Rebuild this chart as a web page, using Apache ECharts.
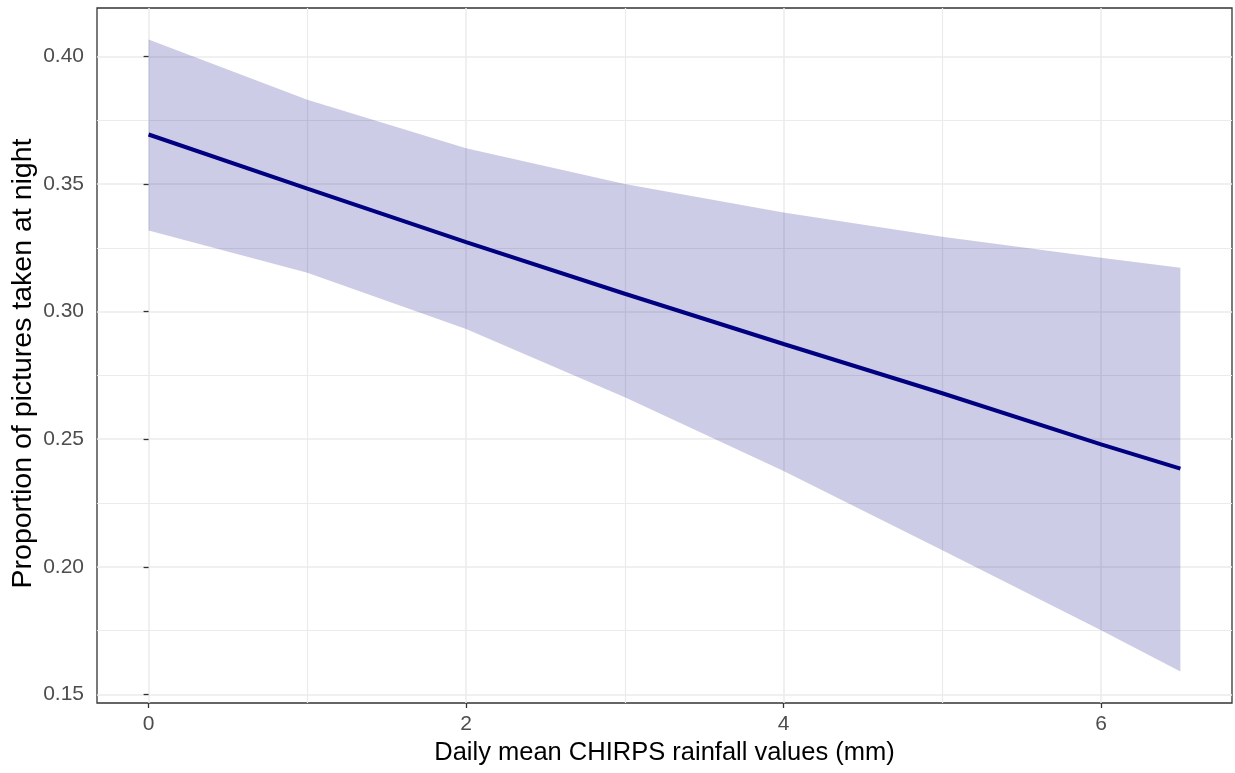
<!DOCTYPE html>
<html>
<head>
<meta charset="utf-8">
<script src="https://cdn.jsdelivr.net/npm/echarts@6/dist/echarts.min.js"></script>
<style>
  html, body { margin: 0; padding: 0; background: #ffffff; }
  #chart { width: 1235px; height: 773px; }
</style>
</head>
<body>
<div id="chart"></div>
<script>
// Rainfall (mm) at which the fitted curve and its confidence band are drawn
const rainfall = [0, 1, 2, 3, 4, 5, 6, 6.5];
// Fitted proportion of night-time pictures
const fitted = [0.3694, 0.3482, 0.3272, 0.3070, 0.2873, 0.2680, 0.2480, 0.2385];
// Upper and lower limits of the confidence band
const upperCI = [0.4066, 0.3830, 0.3640, 0.3500, 0.3388, 0.3293, 0.3211, 0.3172];
const lowerCI = [0.3318, 0.3152, 0.2932, 0.2664, 0.2375, 0.2065, 0.1751, 0.1590];
// Tick values
const xTicks = [0, 2, 4, 6];
const yTicks = [0.15, 0.20, 0.25, 0.30, 0.35, 0.40];

const fitPairs = rainfall.map((x, i) => [x, fitted[i]]);

// Axis ranges padded by 5% of the data span on each side
const xSpan = Math.max(...rainfall) - Math.min(...rainfall);
const xMin = Math.min(...rainfall) - 0.05 * xSpan;
const xMax = Math.max(...rainfall) + 0.05 * xSpan;
const ySpan = Math.max(...upperCI) - Math.min(...lowerCI);
const yMin = Math.min(...lowerCI) - 0.05 * ySpan;
const yMax = Math.max(...upperCI) + 0.05 * ySpan;

const FONT = '"Liberation Sans", Arial, sans-serif';
const gridColor = '#EBEBEB';

// Confidence band: one polygon running along the upper limit and back along the lower limit
function renderBand(params, api) {
  const pts = [];
  for (let i = 0; i < rainfall.length; i++) pts.push(api.coord([rainfall[i], upperCI[i]]));
  for (let i = rainfall.length - 1; i >= 0; i--) pts.push(api.coord([rainfall[i], lowerCI[i]]));
  return {
    type: 'polygon',
    shape: { points: pts },
    style: { fill: 'rgba(0,0,128,0.2)', stroke: 'none' },
    silent: true
  };
}

const chart = echarts.init(document.getElementById('chart'), null, { renderer: 'canvas' });
chart.setOption({
  animation: false,
  backgroundColor: '#ffffff',
  grid: {
    left: 97, right: 3, top: 8, bottom: 70,
    show: true, borderColor: '#333333', borderWidth: 1.3,
    backgroundColor: 'transparent', containLabel: false,
    outerBoundsMode: 'none'
  },
  xAxis: {
    type: 'value',
    min: xMin, max: xMax, splitNumber: 3,
    name: 'Daily mean CHIRPS rainfall values (mm)',
    nameLocation: 'middle', nameGap: 37, nameMoveOverlap: false,
    nameTextStyle: { fontFamily: FONT, fontSize: 25.5, color: '#000000' },
    axisLine: { show: false },
    axisTick: { show: true, length: 5, customValues: xTicks, lineStyle: { color: '#333333', width: 1.3 } },
    axisLabel: { customValues: xTicks, fontFamily: FONT, fontSize: 21, color: '#4D4D4D', margin: 11, formatter: v => String(v) },
    splitLine: { show: true, lineStyle: { color: gridColor, width: 1.5 } },
    minorTick: { show: false, splitNumber: 2 },
    minorSplitLine: { show: true, lineStyle: { color: gridColor, width: 1.2 } }
  },
  yAxis: {
    type: 'value',
    min: yMin, max: yMax, splitNumber: 5,
    name: 'Proportion of pictures taken at night',
    nameLocation: 'middle', nameGap: 59, nameMoveOverlap: false,
    nameTextStyle: { fontFamily: FONT, fontSize: 28.5, color: '#000000', padding: [0, 16, 0, 0] },
    axisLine: { show: false },
    axisTick: { show: true, length: 5, customValues: yTicks, lineStyle: { color: '#333333', width: 1.3 } },
    axisLabel: { customValues: yTicks, fontFamily: FONT, fontSize: 21, color: '#4D4D4D', margin: 13, formatter: v => v.toFixed(2) },
    splitLine: { show: true, lineStyle: { color: gridColor, width: 1.5 } },
    minorTick: { show: false, splitNumber: 2 },
    minorSplitLine: { show: true, lineStyle: { color: gridColor, width: 1.2 } }
  },
  series: [
    {
      name: 'band',
      type: 'custom',
      renderItem: renderBand,
      data: [0],
      silent: true,
      z: 2
    },
    {
      name: 'fit',
      type: 'line',
      data: fitPairs,
      showSymbol: false,
      silent: true,
      lineStyle: { color: '#000080', width: 4 },
      z: 3
    }
  ]
});
</script>
</body>
</html>
